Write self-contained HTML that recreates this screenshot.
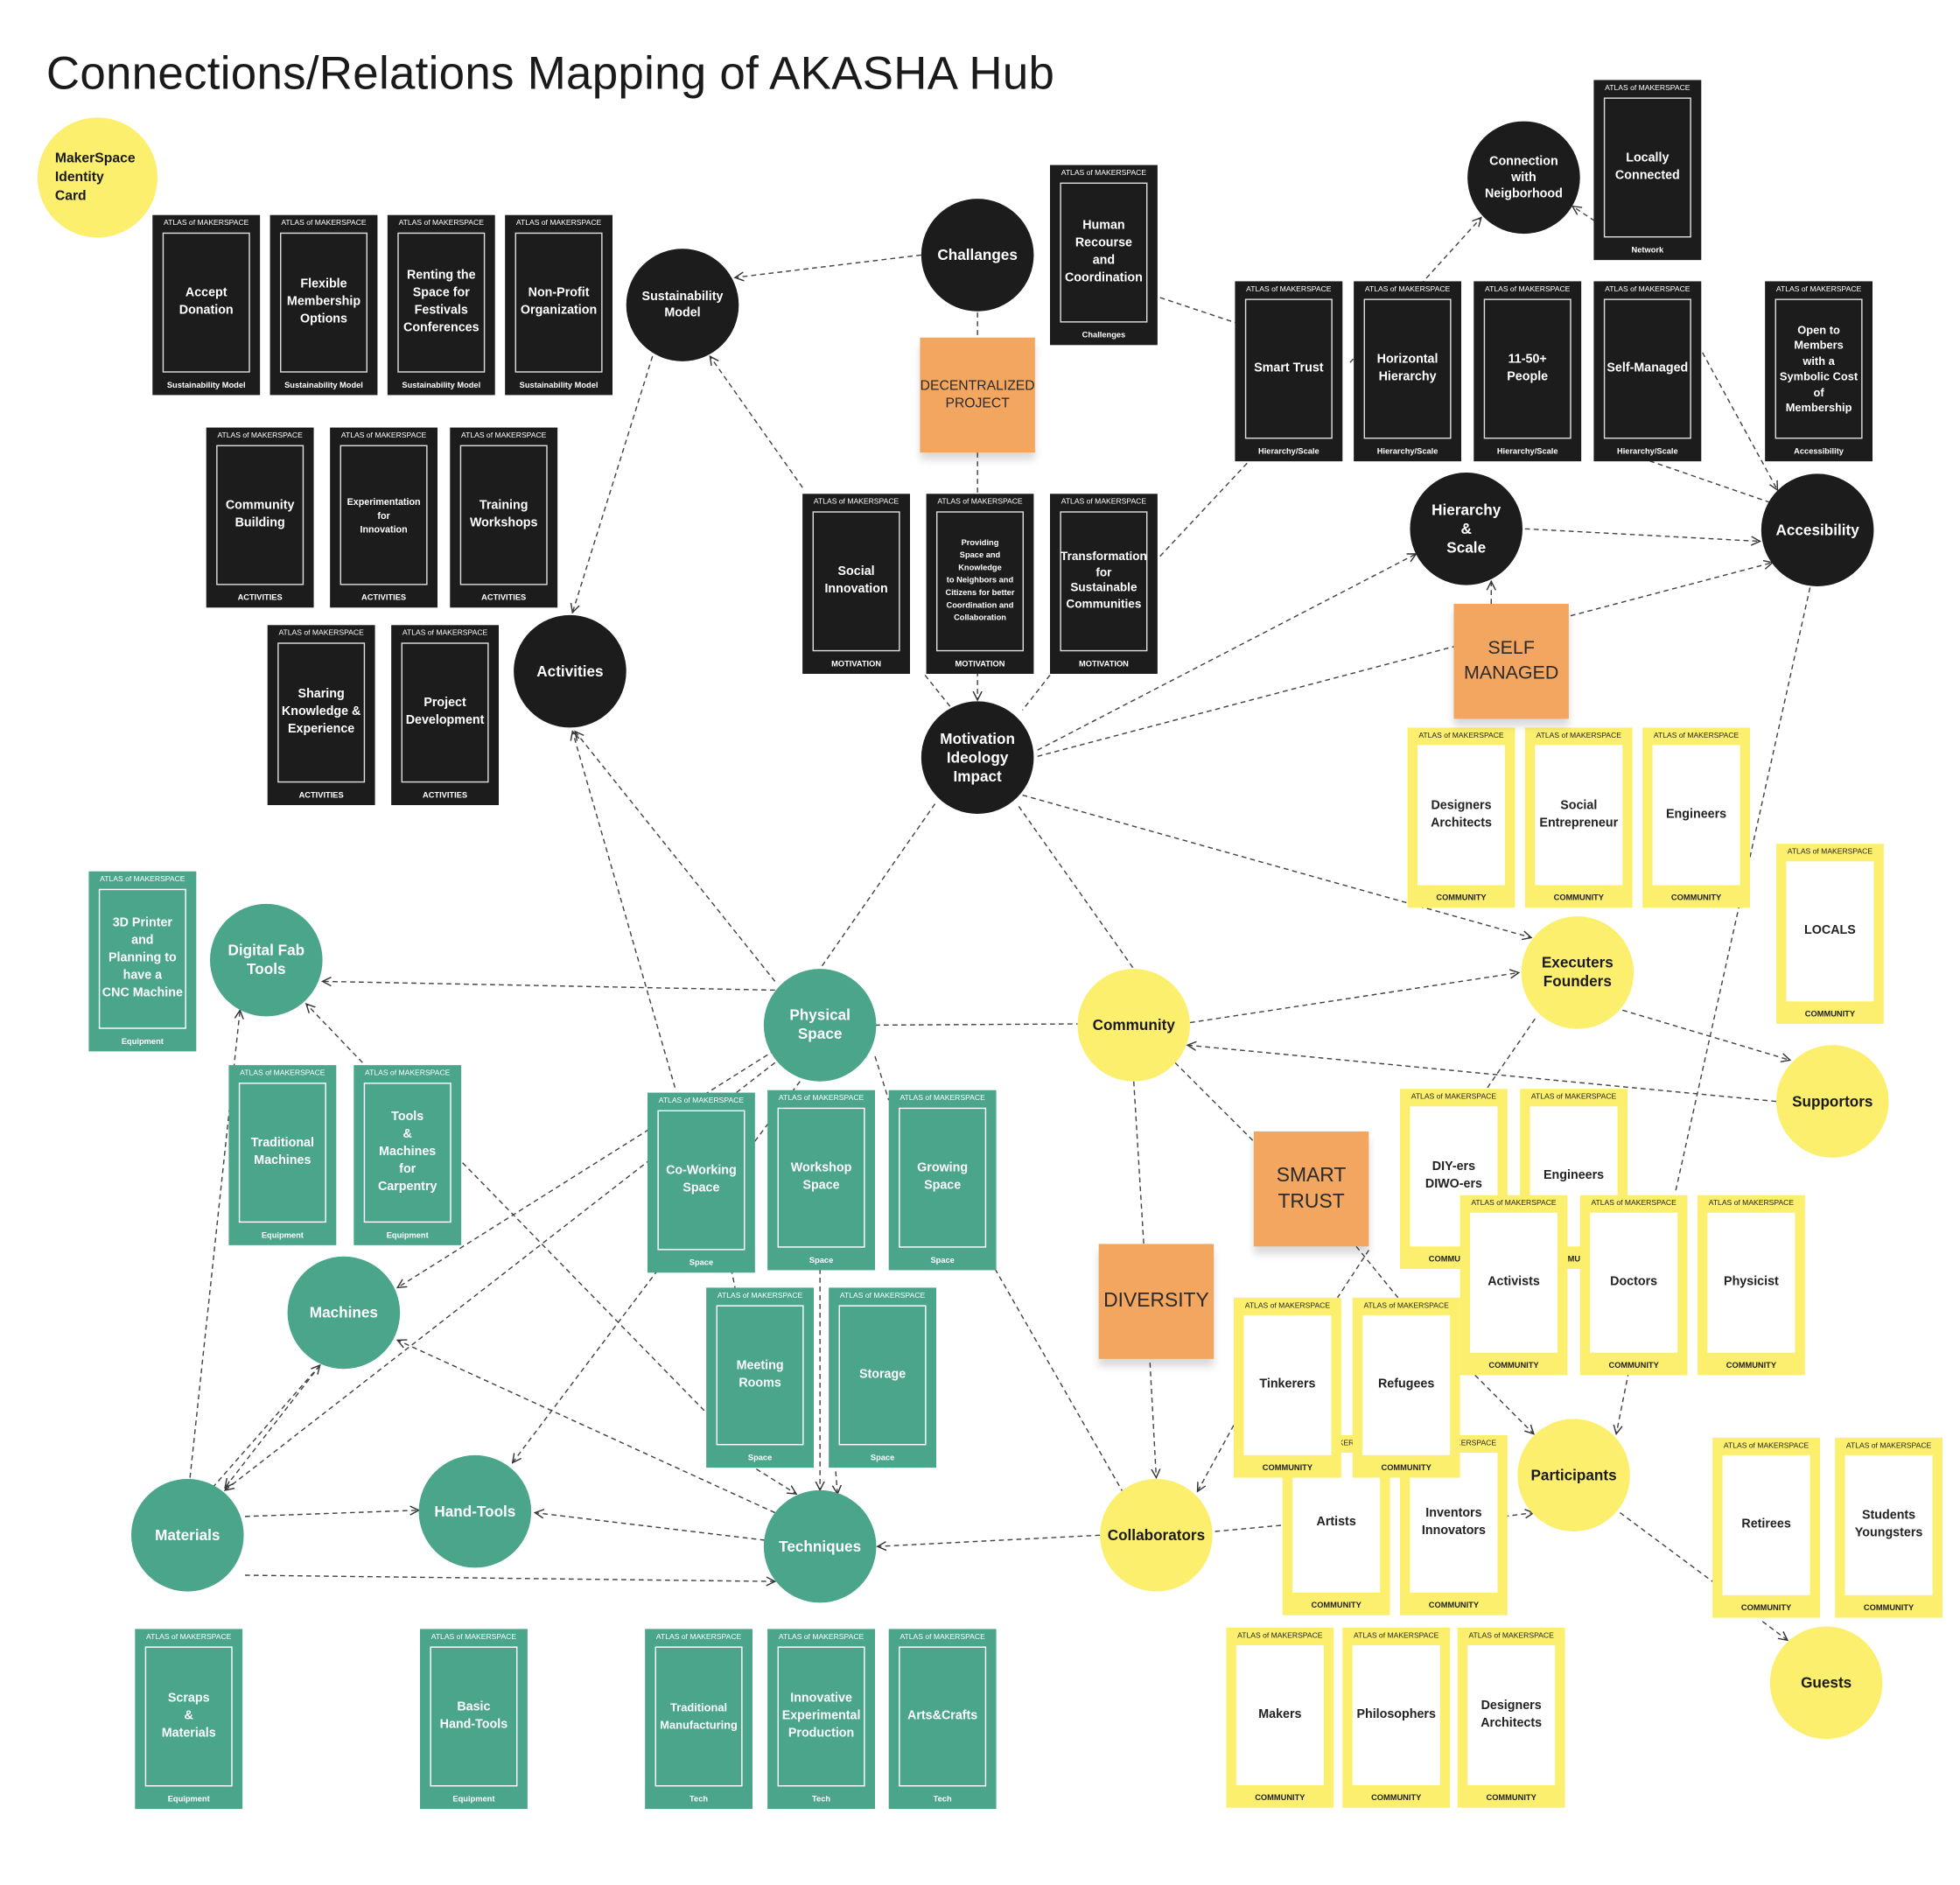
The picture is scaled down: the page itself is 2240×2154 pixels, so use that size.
<!DOCTYPE html>
<html><head><meta charset="utf-8"><style>
html,body{margin:0;padding:0;background:#fff;}
body{width:2240px;height:2154px;overflow:hidden;position:relative;}
#w{position:absolute;left:0;top:0;width:1568px;height:1508px;transform:scale(1.428571);transform-origin:0 0;font-family:"Liberation Sans",sans-serif;}
h1{position:absolute;left:37px;top:38px;margin:0;font-size:37px;font-weight:normal;color:#1a1a1a;white-space:nowrap;letter-spacing:0.2px}
svg{position:absolute;left:0;top:0}
.c{position:absolute;width:86px;height:144px;box-sizing:border-box}
.c i{position:absolute;left:0;right:0;top:4px;text-align:center;font-style:normal;font-size:6px;white-space:nowrap}
.c b{position:absolute;left:8px;right:8px;top:14px;bottom:18px;display:flex;align-items:center;justify-content:center;text-align:center;font-size:10px;line-height:14px;box-sizing:border-box}
.c u{position:absolute;left:0;right:0;bottom:4px;text-align:center;text-decoration:none;font-size:6.5px;font-weight:bold;white-space:nowrap}
.k{background:#1c1c1c;color:#fff}.k b{border:1.5px solid #ddd}
.g{background:#4aa58a;color:#fff}.g b{border:1.5px solid #fff}
.y{background:#fcef6e;color:#222}.y b{background:#fff;color:#222}
.o{position:absolute;border-radius:50%;display:flex;align-items:center;justify-content:center;text-align:center;font-weight:bold;font-size:12px;line-height:15px}
.ok{background:#1c1c1c;color:#fff}.oy{background:#fcef6e;color:#1a1a1a}.og{background:#4aa58a;color:#fff}
.s{position:absolute;width:92px;height:92px;background:#f2a660;display:flex;align-items:center;justify-content:center;text-align:center;color:#2a2a2a;box-shadow:0 6px 6px rgba(0,0,0,0.15)}
</style></head><body><div id="w">
<h1>Connections/Relations Mapping of AKASHA Hub</h1>
<svg width="1568" height="1508" viewBox="0 0 1568 1508">
<defs><marker id="a" markerWidth="8" markerHeight="8" refX="7" refY="4" orient="auto" markerUnits="userSpaceOnUse"><path d="M0,0.5 L7,4 L0,7.5" fill="none" stroke="#333" stroke-width="1"/></marker></defs>
<g stroke="#444" stroke-width="1" stroke-dasharray="4,3" fill="none" marker-end="url(#a)">
<line x1="737" y1="204" x2="588" y2="222"/>
<line x1="782" y1="362" x2="782" y2="560"/>
<line x1="522" y1="285" x2="458" y2="490"/>
<line x1="642" y1="390" x2="568" y2="285"/>
<line x1="1080" y1="290" x2="1185" y2="174"/>
<line x1="1305" y1="196" x2="1258" y2="165"/>
<line x1="1280" y1="355" x2="1425" y2="405"/>
<line x1="1362" y1="282" x2="1422" y2="392"/>
<line x1="1220" y1="423" x2="1408" y2="433"/>
<line x1="830" y1="600" x2="1133" y2="443"/>
<line x1="830" y1="605" x2="1418" y2="450"/>
<line x1="1193" y1="483" x2="1193" y2="465"/>
<line x1="818" y1="636" x2="1225" y2="750"/>
<line x1="620" y1="792" x2="258" y2="785"/>
<line x1="620" y1="785" x2="460" y2="585"/>
<line x1="540" y1="870" x2="458" y2="585"/>
<line x1="952" y1="818" x2="1215" y2="778"/>
<line x1="1421" y1="881" x2="950" y2="836"/>
<line x1="1298" y1="808" x2="1432" y2="848"/>
<line x1="920" y1="1090" x2="925" y2="1182"/>
<line x1="987" y1="1140" x2="958" y2="1193"/>
<line x1="1203" y1="1213" x2="1227" y2="1210"/>
<line x1="1175" y1="1095" x2="1227" y2="1147"/>
<line x1="1303" y1="1097" x2="1293" y2="1147"/>
<line x1="1410" y1="1297" x2="1430" y2="1312"/>
<line x1="880" y1="1228" x2="702" y2="1237"/>
<line x1="620" y1="840" x2="318" y2="1030"/>
<line x1="620" y1="850" x2="180" y2="1192"/>
<line x1="640" y1="865" x2="410" y2="1170"/>
<line x1="170" y1="1190" x2="256" y2="1092"/>
<line x1="256" y1="1092" x2="180" y2="1190"/>
<line x1="196" y1="1213" x2="335" y2="1208"/>
<line x1="196" y1="1260" x2="620" y2="1265"/>
<line x1="152" y1="1182" x2="192" y2="808"/>
<line x1="612" y1="1232" x2="428" y2="1210"/>
<line x1="620" y1="1210" x2="318" y2="1072"/>
<line x1="290" y1="850" x2="245" y2="803"/>
<line x1="605" y1="1175" x2="637" y2="1195"/>
<line x1="656" y1="1015" x2="656" y2="1192"/>
<line x1="668" y1="1170" x2="670" y2="1195"/>
</g>
<g stroke="#444" stroke-width="1" stroke-dasharray="4,3" fill="none">
<line x1="782" y1="250" x2="782" y2="270"/>
<line x1="928" y1="238" x2="988" y2="258"/>
<line x1="928" y1="445" x2="1000" y2="368"/>
<line x1="815" y1="645" x2="907" y2="775"/>
<line x1="748" y1="643" x2="656" y2="775"/>
<line x1="740" y1="540" x2="760" y2="565"/>
<line x1="840" y1="540" x2="818" y2="568"/>
<line x1="700" y1="820" x2="862" y2="819"/>
<line x1="1228" y1="815" x2="1190" y2="870"/>
<line x1="1448" y1="470" x2="1340" y2="955"/>
<line x1="940" y1="850" x2="1003" y2="913"/>
<line x1="907" y1="865" x2="915" y2="995"/>
<line x1="1085" y1="997" x2="1120" y2="1040"/>
<line x1="1095" y1="1000" x2="1070" y2="1038"/>
<line x1="972" y1="1225" x2="1026" y2="1220"/>
<line x1="1296" y1="1210" x2="1370" y2="1265"/>
<line x1="796" y1="1015" x2="898" y2="1193"/>
<line x1="370" y1="930" x2="565" y2="1130"/>
<line x1="585" y1="1015" x2="588" y2="1030"/>
<line x1="700" y1="845" x2="711" y2="880"/>
</g>
</svg>

<!-- black cards -->
<div class="c k" style="left:122px;top:172px"><i>ATLAS of MAKERSPACE</i><b>Accept<br>Donation</b><u>Sustainability Model</u></div>
<div class="c k" style="left:216px;top:172px"><i>ATLAS of MAKERSPACE</i><b>Flexible<br>Membership<br>Options</b><u>Sustainability Model</u></div>
<div class="c k" style="left:310px;top:172px"><i>ATLAS of MAKERSPACE</i><b>Renting the<br>Space for<br>Festivals<br>Conferences</b><u>Sustainability Model</u></div>
<div class="c k" style="left:404px;top:172px"><i>ATLAS of MAKERSPACE</i><b>Non-Profit<br>Organization</b><u>Sustainability Model</u></div>
<div class="c k" style="left:165px;top:342px"><i>ATLAS of MAKERSPACE</i><b>Community<br>Building</b><u>ACTIVITIES</u></div>
<div class="c k" style="left:264px;top:342px"><i>ATLAS of MAKERSPACE</i><b style="font-size:7.5px;line-height:11px">Experimentation<br>for<br>Innovation</b><u>ACTIVITIES</u></div>
<div class="c k" style="left:360px;top:342px"><i>ATLAS of MAKERSPACE</i><b>Training<br>Workshops</b><u>ACTIVITIES</u></div>
<div class="c k" style="left:214px;top:500px"><i>ATLAS of MAKERSPACE</i><b>Sharing<br>Knowledge &amp;<br>Experience</b><u>ACTIVITIES</u></div>
<div class="c k" style="left:313px;top:500px"><i>ATLAS of MAKERSPACE</i><b>Project<br>Development</b><u>ACTIVITIES</u></div>
<div class="c k" style="left:840px;top:132px"><i>ATLAS of MAKERSPACE</i><b>Human<br>Recourse<br>and<br>Coordination</b><u>Challenges</u></div>
<div class="c k" style="left:1275px;top:64px"><i>ATLAS of MAKERSPACE</i><b>Locally<br>Connected</b><u>Network</u></div>
<div class="c k" style="left:988px;top:225px"><i>ATLAS of MAKERSPACE</i><b>Smart Trust</b><u>Hierarchy/Scale</u></div>
<div class="c k" style="left:1083px;top:225px"><i>ATLAS of MAKERSPACE</i><b>Horizontal<br>Hierarchy</b><u>Hierarchy/Scale</u></div>
<div class="c k" style="left:1179px;top:225px"><i>ATLAS of MAKERSPACE</i><b>11-50+<br>People</b><u>Hierarchy/Scale</u></div>
<div class="c k" style="left:1275px;top:225px"><i>ATLAS of MAKERSPACE</i><b>Self-Managed</b><u>Hierarchy/Scale</u></div>
<div class="c k" style="left:1412px;top:225px"><i>ATLAS of MAKERSPACE</i><b style="font-size:9px;line-height:12.5px">Open to<br>Members<br>with a<br>Symbolic Cost<br>of<br>Membership</b><u>Accessibility</u></div>
<div class="c k" style="left:642px;top:395px"><i>ATLAS of MAKERSPACE</i><b>Social<br>Innovation</b><u>MOTIVATION</u></div>
<div class="c k" style="left:741px;top:395px"><i>ATLAS of MAKERSPACE</i><b style="font-size:6.5px;line-height:10px">Providing<br>Space and<br>Knowledge<br>to Neighbors and<br>Citizens for better<br>Coordination and<br>Collaboration</b><u>MOTIVATION</u></div>
<div class="c k" style="left:840px;top:395px"><i>ATLAS of MAKERSPACE</i><b style="font-size:9.5px;line-height:12.5px">Transformation<br>for<br>Sustainable<br>Communities</b><u>MOTIVATION</u></div>

<!-- green cards -->
<div class="c g" style="left:71px;top:697px"><i>ATLAS of MAKERSPACE</i><b>3D Printer<br>and<br>Planning to<br>have a<br>CNC Machine</b><u>Equipment</u></div>
<div class="c g" style="left:183px;top:852px"><i>ATLAS of MAKERSPACE</i><b>Traditional<br>Machines</b><u>Equipment</u></div>
<div class="c g" style="left:283px;top:852px"><i>ATLAS of MAKERSPACE</i><b>Tools<br>&amp;<br>Machines<br>for<br>Carpentry</b><u>Equipment</u></div>
<div class="c g" style="left:518px;top:874px"><i>ATLAS of MAKERSPACE</i><b>Co-Working<br>Space</b><u>Space</u></div>
<div class="c g" style="left:614px;top:872px"><i>ATLAS of MAKERSPACE</i><b>Workshop<br>Space</b><u>Space</u></div>
<div class="c g" style="left:711px;top:872px"><i>ATLAS of MAKERSPACE</i><b>Growing<br>Space</b><u>Space</u></div>
<div class="c g" style="left:565px;top:1030px"><i>ATLAS of MAKERSPACE</i><b>Meeting<br>Rooms</b><u>Space</u></div>
<div class="c g" style="left:663px;top:1030px"><i>ATLAS of MAKERSPACE</i><b>Storage</b><u>Space</u></div>
<div class="c g" style="left:108px;top:1303px"><i>ATLAS of MAKERSPACE</i><b>Scraps<br>&amp;<br>Materials</b><u>Equipment</u></div>
<div class="c g" style="left:336px;top:1303px"><i>ATLAS of MAKERSPACE</i><b>Basic<br>Hand-Tools</b><u>Equipment</u></div>
<div class="c g" style="left:516px;top:1303px"><i>ATLAS of MAKERSPACE</i><b style="font-size:9px">Traditional<br>Manufacturing</b><u>Tech</u></div>
<div class="c g" style="left:614px;top:1303px"><i>ATLAS of MAKERSPACE</i><b>Innovative<br>Experimental<br>Production</b><u>Tech</u></div>
<div class="c g" style="left:711px;top:1303px"><i>ATLAS of MAKERSPACE</i><b>Arts&amp;Crafts</b><u>Tech</u></div>

<!-- yellow cards -->
<div class="c y" style="left:1126px;top:582px"><i>ATLAS of MAKERSPACE</i><b>Designers<br>Architects</b><u>COMMUNITY</u></div>
<div class="c y" style="left:1220px;top:582px"><i>ATLAS of MAKERSPACE</i><b>Social<br>Entrepreneur</b><u>COMMUNITY</u></div>
<div class="c y" style="left:1314px;top:582px"><i>ATLAS of MAKERSPACE</i><b>Engineers</b><u>COMMUNITY</u></div>
<div class="c y" style="left:1421px;top:675px"><i>ATLAS of MAKERSPACE</i><b>LOCALS</b><u>COMMUNITY</u></div>
<div class="c y" style="left:1120px;top:871px"><i>ATLAS of MAKERSPACE</i><b>DIY-ers<br>DIWO-ers</b><u>COMMUNITY</u></div>
<div class="c y" style="left:1216px;top:871px"><i>ATLAS of MAKERSPACE</i><b>Engineers</b><u>COMMUNITY</u></div>
<div class="c y" style="left:1168px;top:956px"><i>ATLAS of MAKERSPACE</i><b>Activists</b><u>COMMUNITY</u></div>
<div class="c y" style="left:1264px;top:956px"><i>ATLAS of MAKERSPACE</i><b>Doctors</b><u>COMMUNITY</u></div>
<div class="c y" style="left:1358px;top:956px"><i>ATLAS of MAKERSPACE</i><b>Physicist</b><u>COMMUNITY</u></div>
<div class="c y" style="left:1026px;top:1148px"><i>ATLAS of MAKERSPACE</i><b>Artists</b><u>COMMUNITY</u></div>
<div class="c y" style="left:1120px;top:1148px"><i>ATLAS of MAKERSPACE</i><b>Inventors<br>Innovators</b><u>COMMUNITY</u></div>
<div class="c y" style="left:987px;top:1038px"><i>ATLAS of MAKERSPACE</i><b>Tinkerers</b><u>COMMUNITY</u></div>
<div class="c y" style="left:1082px;top:1038px"><i>ATLAS of MAKERSPACE</i><b>Refugees</b><u>COMMUNITY</u></div>
<div class="c y" style="left:1370px;top:1150px"><i>ATLAS of MAKERSPACE</i><b>Retirees</b><u>COMMUNITY</u></div>
<div class="c y" style="left:1468px;top:1150px"><i>ATLAS of MAKERSPACE</i><b>Students<br>Youngsters</b><u>COMMUNITY</u></div>
<div class="c y" style="left:981px;top:1302px"><i>ATLAS of MAKERSPACE</i><b>Makers</b><u>COMMUNITY</u></div>
<div class="c y" style="left:1074px;top:1302px"><i>ATLAS of MAKERSPACE</i><b>Philosophers</b><u>COMMUNITY</u></div>
<div class="c y" style="left:1166px;top:1302px"><i>ATLAS of MAKERSPACE</i><b>Designers<br>Architects</b><u>COMMUNITY</u></div>

<!-- stickies -->
<div class="s" style="left:736px;top:270px;font-size:11px;line-height:14px">DECENTRALIZED<br>PROJECT</div>
<div class="s" style="left:1163px;top:483px;font-size:15px;line-height:20px">SELF<br>MANAGED</div>
<div class="s" style="left:1003px;top:905px;font-size:16px;line-height:21px">SMART<br>TRUST</div>
<div class="s" style="left:879px;top:995px;font-size:16px">DIVERSITY</div>

<!-- circles -->
<div class="o ok" style="left:737px;top:159px;width:90px;height:90px">Challanges</div>
<div class="o ok" style="left:501px;top:199px;width:90px;height:90px;font-size:10px;line-height:13px">Sustainability<br>Model</div>
<div class="o ok" style="left:1174px;top:97px;width:90px;height:90px;font-size:10px;line-height:13px">Connection<br>with<br>Neigborhood</div>
<div class="o ok" style="left:411px;top:492px;width:90px;height:90px">Activities</div>
<div class="o ok" style="left:737px;top:561px;width:90px;height:90px">Motivation<br>Ideology<br>Impact</div>
<div class="o ok" style="left:1128px;top:378px;width:90px;height:90px">Hierarchy<br>&amp;<br>Scale</div>
<div class="o ok" style="left:1409px;top:379px;width:90px;height:90px">Accesibility</div>
<div class="o oy" style="left:30px;top:94px;width:96px;height:96px;justify-content:flex-start;text-align:left;padding-left:14px;box-sizing:border-box;font-size:11px;line-height:15px">MakerSpace<br>Identity<br>Card</div>
<div class="o oy" style="left:862px;top:775px;width:90px;height:90px">Community</div>
<div class="o oy" style="left:1217px;top:733px;width:90px;height:90px">Executers<br>Founders</div>
<div class="o oy" style="left:1421px;top:836px;width:90px;height:90px">Supportors</div>
<div class="o oy" style="left:1214px;top:1135px;width:90px;height:90px">Participants</div>
<div class="o oy" style="left:880px;top:1183px;width:90px;height:90px">Collaborators</div>
<div class="o oy" style="left:1416px;top:1301px;width:90px;height:90px">Guests</div>
<div class="o og" style="left:168px;top:723px;width:90px;height:90px">Digital Fab<br>Tools</div>
<div class="o og" style="left:611px;top:775px;width:90px;height:90px">Physical<br>Space</div>
<div class="o og" style="left:230px;top:1005px;width:90px;height:90px">Machines</div>
<div class="o og" style="left:105px;top:1183px;width:90px;height:90px">Materials</div>
<div class="o og" style="left:335px;top:1164px;width:90px;height:90px">Hand-Tools</div>
<div class="o og" style="left:611px;top:1192px;width:90px;height:90px">Techniques</div>
</div></body></html>
